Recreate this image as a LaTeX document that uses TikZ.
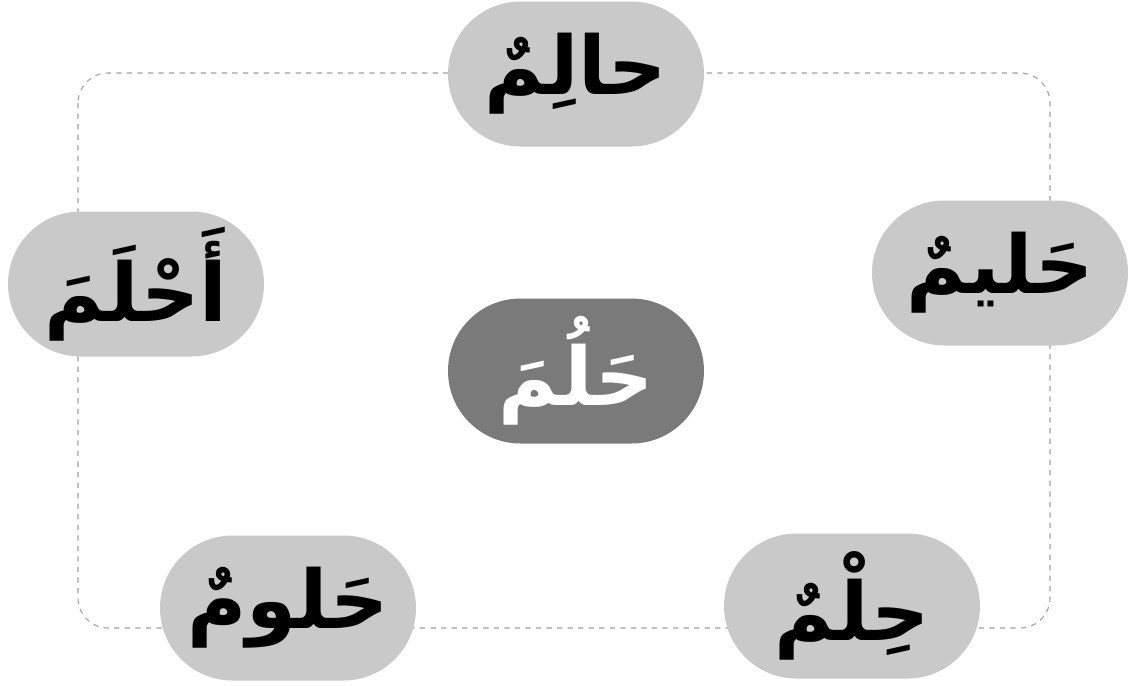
\documentclass[tikz,border=0pt]{standalone}
\usepackage{fontspec}
\usepackage{xcolor}
\usepackage{tikz}
\usetikzlibrary{positioning}
\TeXXeTstate=1
\newfontfamily\arabicfont[Script=Arabic]{DejaVu Sans}
\definecolor{pillgray}{HTML}{C9C9C9}
\definecolor{pilldark}{HTML}{7A7A7A}
\definecolor{dashgray}{HTML}{A0A0A0}
\newcommand{\ar}[1]{\arabicfont\bfseries\beginR #1\endR}

\begin{document}
\begin{tikzpicture}[font=\fontsize{46}{54}\selectfont]
  \tikzset{wordpill/.style={fill=pillgray, text=black, rounded corners=14.5mm, minimum width=5.12cm, minimum height=2.9cm, inner sep=0pt}}
  \tikzset{rootpill/.style={wordpill, fill=pilldark, text=white}}
  \useasboundingbox (0,0) rectangle (22.62,-13.70);
  % dashed frame behind the words
  \draw[dashgray, dashed, line width=0.6pt, rounded corners=6mm] (1.56,-1.46) rectangle (21.0,-12.56);
  \node[wordpill] (top) at (11.52,-1.48) {\ar{حالِمٌ}};
  \node[wordpill] (right) at (20.00,-5.46) {\ar{حَليمٌ}};
  \node[wordpill] (left) at (2.72,-5.68) {\ar{أَحْلَمَ}};
  \node[rootpill] (root) at (11.52,-7.42) {\ar{حَلُمَ}};
  \node[wordpill] (botleft) at (5.76,-12.16) {\ar{حَلومٌ}};
  \node[wordpill] (botright) at (17.04,-12.12) {\ar{حِلْمٌ}};
\end{tikzpicture}
\end{document}
